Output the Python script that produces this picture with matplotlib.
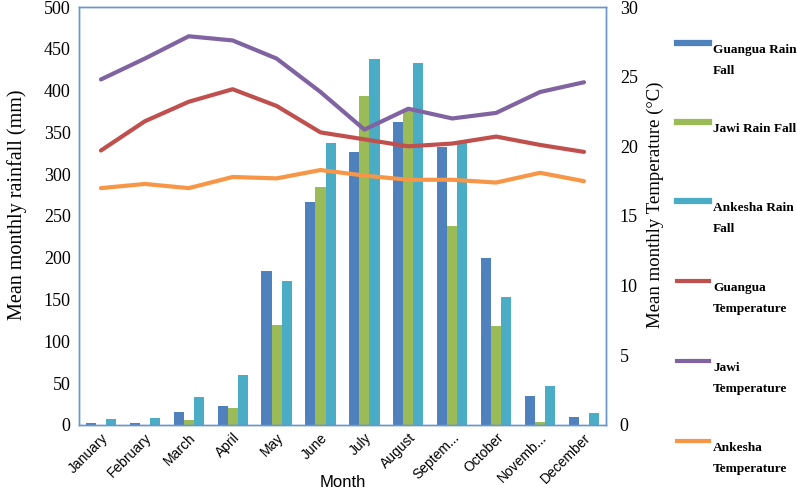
import numpy as np
import matplotlib.pyplot as plt
from matplotlib.lines import Line2D

# data
months = ["January", "February", "March", "April", "May", "June", "July",
          "August", "Septem...", "October", "Novemb...", "December"]

guangua_rain = [2, 2, 15, 23, 184, 267, 326, 362, 332, 200, 35, 10]
jawi_rain = [0, 0, 6, 20, 120, 285, 393, 375, 238, 118, 4, 0]
ankesha_rain = [7, 8, 33, 60, 172, 337, 438, 433, 338, 153, 47, 14]

guangua_temp = [19.7, 21.8, 23.2, 24.1, 22.9, 21.0, 20.5, 20.0, 20.2, 20.7, 20.1, 19.6]
jawi_temp = [24.8, 26.3, 27.9, 27.6, 26.3, 23.9, 21.2, 22.7, 22.0, 22.4, 23.9, 24.6]
ankesha_temp = [17.0, 17.3, 17.0, 17.8, 17.7, 18.3, 17.9, 17.6, 17.6, 17.4, 18.1, 17.5]

rain_series = [("Guangua Rain\nFall", guangua_rain, "#4F81BD"),
               ("Jawi Rain Fall", jawi_rain, "#9BBB59"),
               ("Ankesha Rain\nFall", ankesha_rain, "#4BACC6")]
temp_series = [("Guangua\nTemperature", guangua_temp, "#C0504D"),
               ("Jawi\nTemperature", jawi_temp, "#8064A2"),
               ("Ankesha\nTemperature", ankesha_temp, "#F79646")]

serif = "Liberation Serif"
sans = "Liberation Sans"
frame = "#6A96CC"

fig = plt.figure(figsize=(7.97, 4.90), dpi=100)
ax = fig.add_axes([0.0991, 0.1327, 0.6612, 0.853])
ax2 = ax.twinx()

x = np.arange(len(months))
w = 0.23
for i, (label, vals, color) in enumerate(rain_series):
    ax.bar(x + (i - 1) * w, vals, width=w, color=color, zorder=2)

for label, vals, color in temp_series:
    ax2.plot(x, vals, color=color, lw=3, solid_capstyle="round", zorder=3)

ax.set_xlim(-0.5, len(months) - 0.5)
ax.set_ylim(0, 500)
ax.set_yticks(range(0, 501, 50))
ax2.set_ylim(0, 30)
ax2.set_yticks(range(0, 31, 5))

ax.set_xticks(x)
ax.set_xticklabels(months, rotation=45, ha="right", rotation_mode="anchor",
                   family=sans, fontsize=10)
for t in ax.get_yticklabels() + ax2.get_yticklabels():
    t.set_fontfamily(serif)
    t.set_fontsize(13)

ax.tick_params(axis="both", length=0, pad=6)
ax2.tick_params(axis="y", length=0, pad=10)
ax.tick_params(axis="x", pad=4)

for a in (ax, ax2):
    for s in a.spines.values():
        s.set_color(frame)
        s.set_linewidth(1)

ax.set_ylabel("Mean monthly rainfall (mm)", family=serif, fontsize=14.5)
ax.yaxis.set_label_coords(-0.099, 0.526)
ax2.set_ylabel("Mean monthly Temperature (\u00b0C)", family=serif, fontsize=13.5,
               rotation=90, va="center")
ax2.yaxis.set_label_coords(1.093, 0.526)
ax.set_xlabel("Month", family=sans, fontsize=12, labelpad=-8)

# legend on the right, handle level with the first text line
handle_y = [43, 122, 201, 281, 361, 441]
entries = rain_series + temp_series
for i, ((label, vals, color), hy) in enumerate(zip(entries, handle_y)):
    yf = 1 - hy / 490
    lw = 4.5 if i < 3 else 3
    fig.add_artist(Line2D([677 / 797, 709 / 797], [yf, yf], color=color, lw=lw,
                          transform=fig.transFigure))
    fig.text(713 / 797, yf - 1 / 490, label, family=serif, fontweight="bold",
             fontsize=9.6, va="top", ha="left", linespacing=2.0)

fig.savefig("out.png", dpi=100)
